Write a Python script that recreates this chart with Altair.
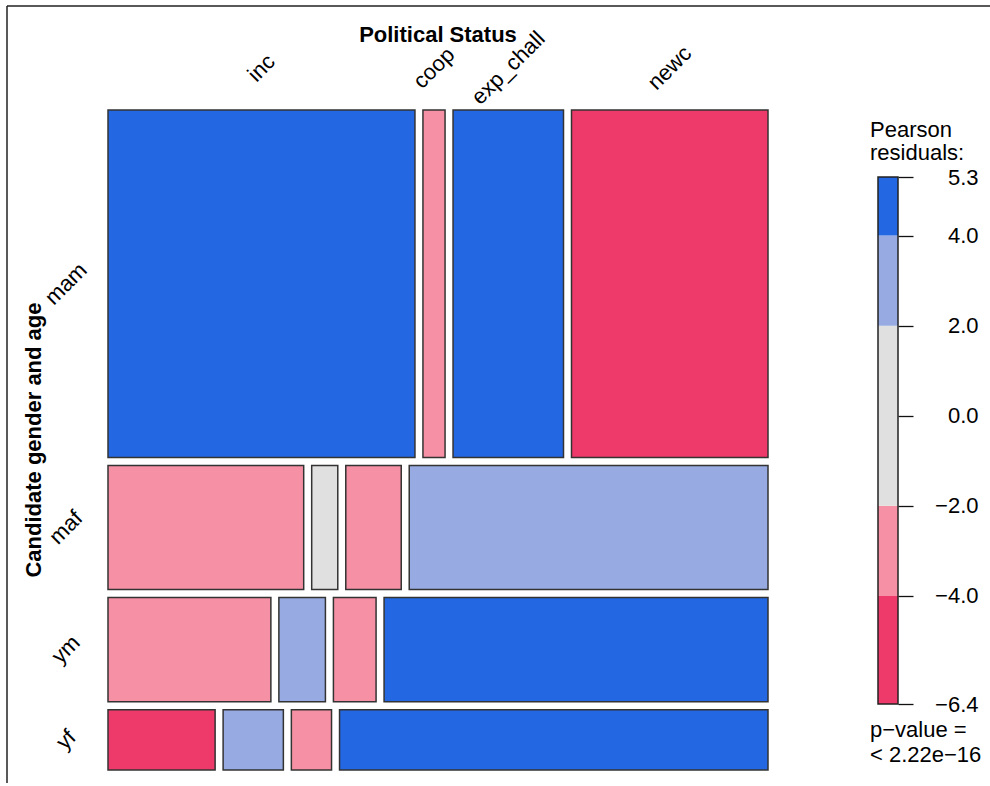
import altair as alt
import pandas as pd

# ---------------- data ----------------
rows = ["mam", "maf", "ym", "yf"]
cols = ["inc", "coop", "exp_chall", "newc"]
counts = [
    [264, 19, 95, 169],
    [60, 8, 17, 110],
    [42, 12, 11, 99],
    [16, 9, 6, 64],
]
residuals = [
    [5.3, -2.6, 4.4, -6.4],
    [-3.4, -0.8, -2.9, 3.1],
    [-3.1, 2.5, -2.3, 4.7],
    [-4.6, 2.4, -2.2, 4.9],
]
breaks = [-4, -2, 2, 4]
shade_colors = ["#EE3A6A", "#F691A5", "#E0E0E0", "#97ABE2", "#2368E2"]
legend_ticks = [-6.4, -4, -2, 0, 2, 4, 5.3]
legend_lo = [-6.4, -4, -2, 2, 4]
legend_hi = [-4, -2, 2, 4, 5.3]
legend_title = ["Pearson", "residuals:"]
p_value_text = ["p\u2212value =", "< 2.22e\u221216"]
x_title = "Political Status"
y_title = "Candidate gender and age"

# ---------------- layout ----------------
W = H = 660
GAP = 8
FONT = "Liberation Sans"
FS = 22

gx = GAP / W
gy = GAP / H
row_tot = [sum(r) for r in counts]
grand = sum(row_tot)
avail_y = 1 - gy * (len(rows) - 1)
avail_x = 1 - gx * (len(cols) - 1)
recs = []
y0 = 0.0
for i, r in enumerate(rows):
    h = avail_y * row_tot[i] / grand
    x0 = 0.0
    for j, c in enumerate(cols):
        w = avail_x * counts[i][j] / row_tot[i]
        recs.append(dict(row=r, col=c, count=counts[i][j], resid=residuals[i][j],
                         x=x0, x2=x0 + w, y=y0, y2=y0 + h,
                         xc=x0 + w / 2, yc=y0 + h / 2))
        x0 += w + gx
    y0 += h + gy
cells = pd.DataFrame(recs)

xs = alt.Scale(domain=[0, 1], nice=False, zero=False)
ys = alt.Scale(domain=[0, 1], nice=False, zero=False, reverse=True)
cscale = alt.Scale(type="threshold", domain=breaks, range=shade_colors)

rects = alt.Chart(cells).mark_rect(stroke="#333333", strokeWidth=1.5).encode(
    x=alt.X("x:Q", scale=xs, axis=None),
    x2="x2:Q",
    y=alt.Y("y:Q", scale=ys, axis=None),
    y2="y2:Q",
    color=alt.Color("resid:Q", scale=cscale, legend=None),
    tooltip=["row", "col", "count", "resid"],
)

col_labels = alt.Chart(cells).transform_filter(
    alt.datum.row == rows[0]
).mark_text(angle=315, align="center", baseline="middle", font=FONT,
            fontSize=FS, color="black").encode(
    x=alt.X("xc:Q", scale=xs, axis=None),
    y=alt.value(-42),
    text="col:N",
)

row_labels = alt.Chart(cells).transform_filter(
    alt.datum.col == cols[0]
).mark_text(angle=315, align="center", baseline="middle", font=FONT,
            fontSize=FS, color="black").encode(
    y=alt.Y("yc:Q", scale=ys, axis=None),
    x=alt.value(-42),
    text="row:N",
)

title_df = pd.DataFrame({"t": [x_title]})
xt = alt.Chart(title_df).mark_text(align="center", baseline="middle", font=FONT,
                                   fontSize=FS, fontWeight="bold", color="black").encode(
    text="t:N", x=alt.value(330), y=alt.value(-75))
yt_df = pd.DataFrame({"t": [y_title]})
yt = alt.Chart(yt_df).mark_text(align="center", baseline="middle", font=FONT, angle=270,
                                fontSize=FS, fontWeight="bold", color="black").encode(
    text="t:N", x=alt.value(-74), y=alt.value(330))

frame_df = pd.DataFrame({"k": [0]})
frame_top = alt.Chart(frame_df).mark_rule(color="#222222", strokeWidth=1.5).encode(
    x=alt.value(-101), x2=alt.value(890), y=alt.value(-104))
frame_left = alt.Chart(frame_df).mark_rule(color="#222222", strokeWidth=1.5).encode(
    x=alt.value(-101), y=alt.value(-104), y2=alt.value(673))

mosaic = alt.layer(rects, col_labels, row_labels, xt, yt, frame_top, frame_left)

# ---------------- legend (colour key) ----------------
leg_df = pd.DataFrame({"lo": legend_lo, "hi": legend_hi})
leg_df["mid"] = (leg_df["lo"] + leg_df["hi"]) / 2
ls = alt.Scale(domain=[min(legend_ticks), max(legend_ticks)], range=[594, 67],
               nice=False, zero=False)
leg_axis = alt.Axis(orient="right", offset=130, values=legend_ticks, format=".1f",
                    domain=False, grid=False, title=None, tickSize=15,
                    tickColor="#111111", tickWidth=1.3, labelPadding=65,
                    labelAlign="right", labelBaseline="middle",
                    labelFont=FONT, labelFontSize=FS, labelColor="black",
                    labelOverlap=False, labelFlush=False)

outline_df = pd.DataFrame({"lo": [min(legend_ticks)], "hi": [max(legend_ticks)]})
leg_outline = alt.Chart(outline_df).mark_rect(fillOpacity=0, stroke="#222222",
                                              strokeWidth=1.5).encode(
    y=alt.Y("lo:Q", scale=ls, axis=leg_axis), y2="hi:Q",
    x=alt.value(770), x2=alt.value(790))

leg_rects = alt.Chart(leg_df).mark_rect().encode(
    y=alt.Y("lo:Q", scale=ls, axis=leg_axis),
    y2="hi:Q",
    x=alt.value(770),
    x2=alt.value(790),
    color=alt.Color("mid:Q", scale=cscale, legend=None),
)

def txt(s, y):
    return alt.Chart(pd.DataFrame({"t": [s]})).mark_text(
        align="left", baseline="middle", font=FONT, fontSize=FS, color="black"
    ).encode(text="t:N", x=alt.value(762), y=alt.value(y))

legend = alt.layer(
    leg_rects, leg_outline,
    txt(legend_title[0], 20), txt(legend_title[1], 43),
    txt(p_value_text[0], 620), txt(p_value_text[1], 645),
)

chart = alt.layer(mosaic, legend).resolve_scale(
    x="independent", y="independent", color="independent"
).properties(
    width=W, height=H,
    autosize=alt.AutoSizeParams(type="none"),
    padding={"left": 108, "top": 110, "right": 222, "bottom": 16},
    background="white",
).configure_view(stroke=None)

chart.save("out.html", embed_options={"renderer": "svg", "actions": False})
